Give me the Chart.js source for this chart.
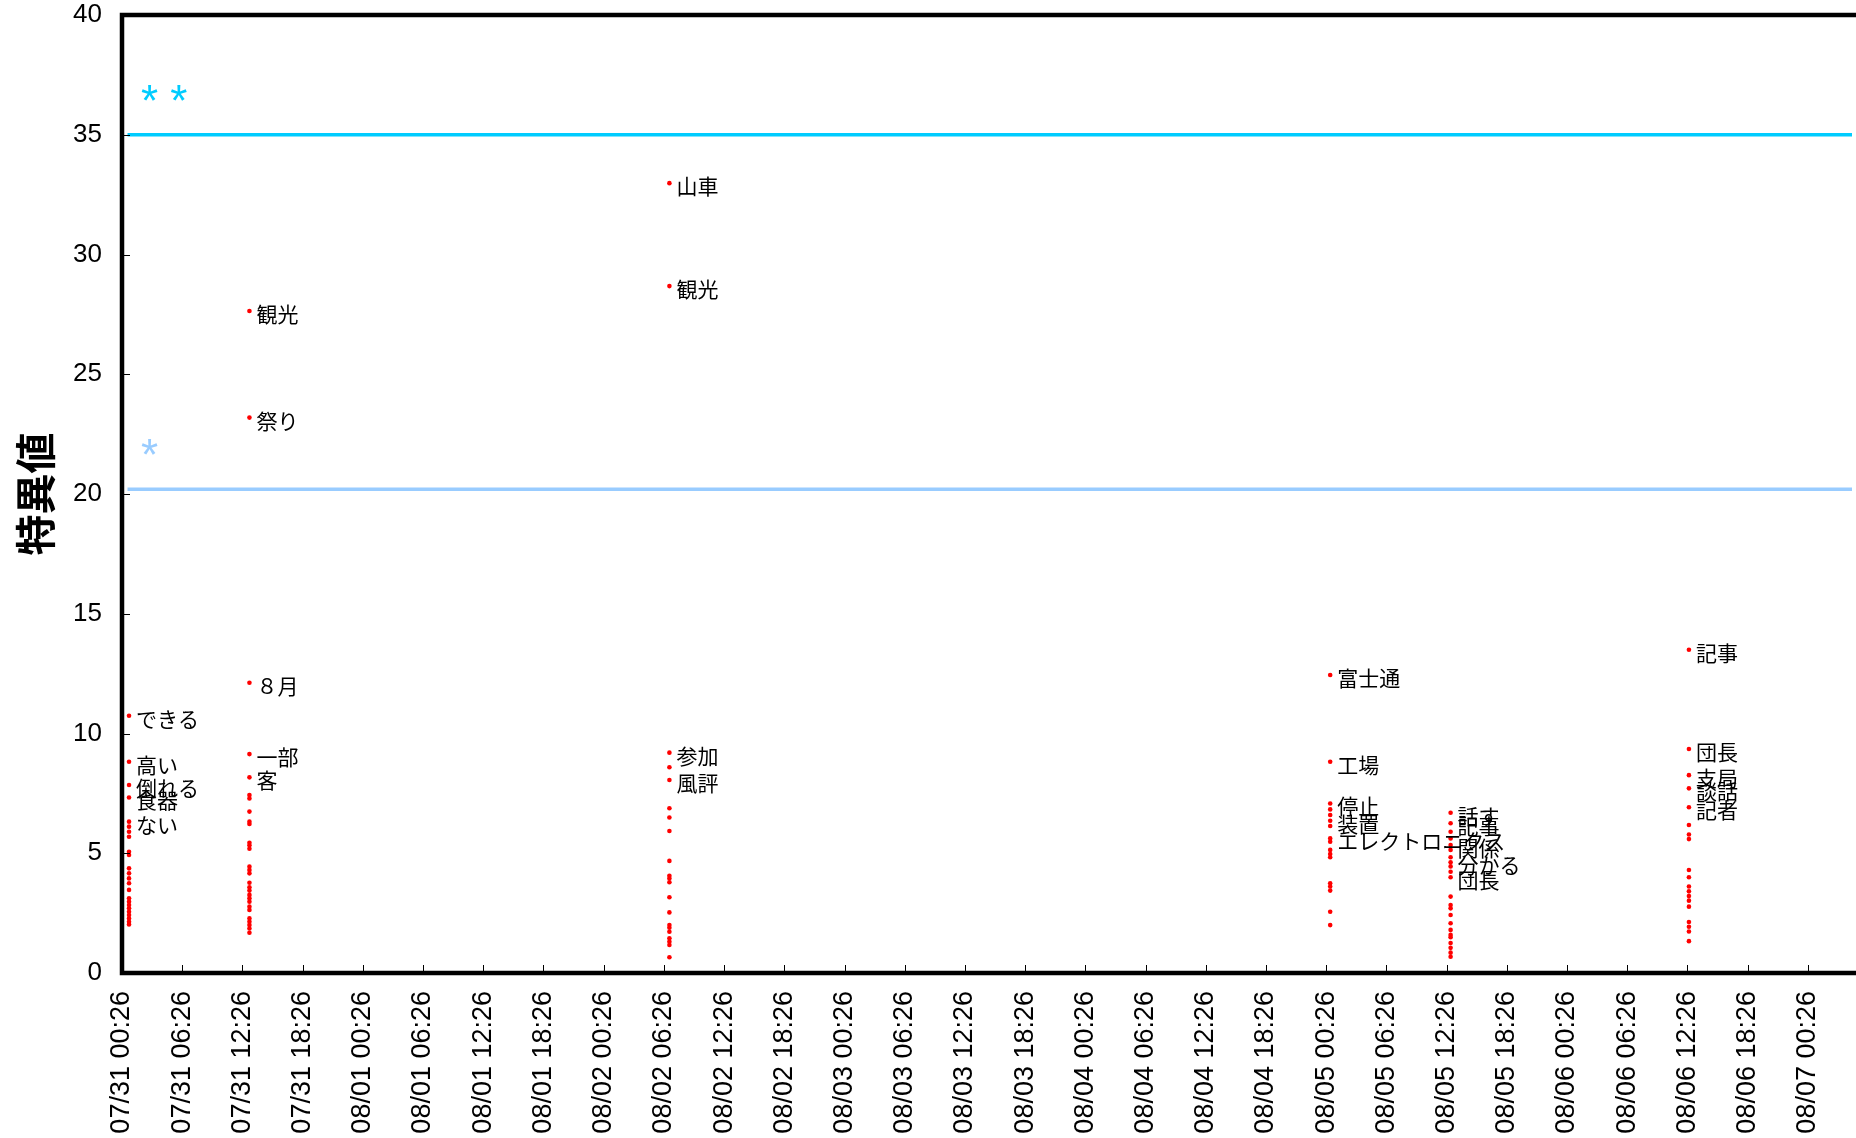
<!DOCTYPE html>
<html lang="ja">
<head>
<meta charset="utf-8">
<title>特異値</title>
<script src="https://cdn.jsdelivr.net/npm/chart.js@4.4.1/dist/chart.umd.min.js"></script>
<style>
    html, body { margin: 0; padding: 0; background: #fff; }
    #wrap { width: 1856px; height: 1138px; }
</style>
</head>
<body>
<div id="wrap"><canvas id="myChart"></canvas></div>
<script>
// x axis is in hours counted from 07/31 00:26, one label every 6 hours
var xTickLabels = [
    '07/31 00:26', '07/31 06:26', '07/31 12:26', '07/31 18:26',
    '08/01 00:26', '08/01 06:26', '08/01 12:26', '08/01 18:26',
    '08/02 00:26', '08/02 06:26', '08/02 12:26', '08/02 18:26',
    '08/03 00:26', '08/03 06:26', '08/03 12:26', '08/03 18:26',
    '08/04 00:26', '08/04 06:26', '08/04 12:26', '08/04 18:26',
    '08/05 00:26', '08/05 06:26', '08/05 12:26', '08/05 18:26',
    '08/06 00:26', '08/06 06:26', '08/06 12:26', '08/06 18:26',
    '08/07 00:26'
];
var xMaxHours = 172.4;

// time of each burst of words (hours from 07/31 00:26)
var burstTimes = [0.7, 12.7, 54.55, 120.4, 132.4, 156.15];

// 特異値 of the words in each burst, the top ones carry a label
var vals1 = [10.74, 8.82, 7.85, 7.33, 6.32, 6.11, 5.90, 5.69, 5.06, 4.93, 4.37, 4.16, 3.95, 3.75, 3.47, 3.12, 2.98, 2.84, 2.70, 2.56, 2.42, 2.28, 2.14, 2.03];
var words1 = ['できる', '高い', '倒れる', '食器', 'ない'];

var vals2 = [27.64, 23.19, 12.12, 9.14, 8.17, 7.43, 7.29, 6.74, 6.32, 6.22, 5.44, 5.33, 5.19, 4.44, 4.30, 4.16, 3.77, 3.58, 3.44, 3.26, 3.12, 2.98, 2.77, 2.63, 2.28, 2.14, 2.00, 1.86, 1.68];
var words2 = ['観光', '祭り', '８月', '一部', '客'];

var vals3 = [32.98, 28.68, 9.20, 8.59, 8.06, 6.88, 6.49, 5.93, 4.68, 4.06, 3.95, 3.79, 3.16, 2.53, 2.00, 1.89, 1.72, 1.45, 1.31, 1.17, 0.66];
var words3 = ['山車', '観光', '参加', '', '風評'];

var vals4 = [12.44, 8.82, 7.08, 6.83, 6.60, 6.36, 6.14, 5.62, 5.48, 5.14, 4.97, 4.83, 3.75, 3.61, 3.44, 2.56, 2.00];
var words4 = ['富士通', '工場', '停止', '', '', '装置', '', 'エレクトロニクス'];

var vals5 = [6.69, 6.25, 5.90, 5.62, 5.34, 5.14, 4.83, 4.62, 4.45, 4.23, 4.00, 3.19, 2.84, 2.70, 2.42, 2.08, 1.80, 1.59, 1.49, 1.25, 1.05, 0.85, 0.68];
var words5 = ['話す', '記事', '', '', '関係', '', '', '分かる', '', '', '団長'];

var vals6 = [13.50, 9.35, 8.26, 7.71, 6.92, 6.18, 5.78, 5.59, 4.30, 4.00, 3.61, 3.41, 3.21, 3.02, 2.77, 2.13, 1.93, 1.73, 1.33];
var words6 = ['記事', '団長', '支局', '談話', '記者'];

// significance lines
var thresholdValues = [35, 20.2];
var thresholdMarks = ['* *', '*'];
var thresholdColors = ['#00CCFF', '#99CCFF'];

var allVals = [vals1, vals2, vals3, vals4, vals5, vals6];
var allWords = [words1, words2, words3, words4, words5, words6];

var datasets = [];

// horizontal lines first so the dots sit on top
thresholdValues.forEach(function(v, i) {
    datasets.push({
        type: 'line',
        data: [{x: 0.55, y: v}, {x: xMaxHours, y: v}],
        borderColor: thresholdColors[i],
        borderWidth: 3.5,
        pointRadius: 0,
        fill: false,
        mark: thresholdMarks[i]
    });
});

allVals.forEach(function(vals, i) {
    datasets.push({
        type: 'scatter',
        data: vals.map(function(v) { return {x: burstTimes[i], y: v}; }),
        backgroundColor: '#FF0000',
        borderWidth: 0,
        pointRadius: 2.3,
        words: allWords[i]
    });
});

// word labels next to the dots, and the asterisks over the lines
var wordPlugin = {
    id: 'words',
    afterDatasetsDraw: function(chart) {
        var c = chart.ctx;
        var a = chart.chartArea;
        c.save();
        c.font = '21px "Noto Sans CJK JP"';
        c.fillStyle = '#000';
        c.textAlign = 'left';
        c.textBaseline = 'middle';
        chart.data.datasets.forEach(function(ds, i) {
            if (!ds.words) return;
            chart.getDatasetMeta(i).data.forEach(function(pt, j) {
                if (ds.words[j]) c.fillText(ds.words[j], pt.x + 7, pt.y + 3);
            });
        });
        c.font = '44px "Liberation Sans"';
        c.textBaseline = 'alphabetic';
        chart.data.datasets.forEach(function(ds, i) {
            if (!ds.mark) return;
            var py = chart.scales.y.getPixelForValue(ds.data[0].y);
            c.fillStyle = ds.borderColor;
            c.fillText(ds.mark, a.left + 19, py - 19);
        });
        c.restore();
    }
};

// thick frame on left, top and bottom, small ticks pointing inward
var framePlugin = {
    id: 'frame',
    afterDraw: function(chart) {
        var c = chart.ctx;
        var a = chart.chartArea;
        var xs = chart.scales.x;
        var ys = chart.scales.y;
        c.save();
        c.strokeStyle = '#000';
        c.lineWidth = 1;
        ys.ticks.forEach(function(t) {
            var py = Math.round(ys.getPixelForValue(t.value)) + 0.5;
            c.beginPath();
            c.moveTo(a.left, py);
            c.lineTo(a.left + 8, py);
            c.stroke();
        });
        xs.ticks.forEach(function(t) {
            var px = Math.round(xs.getPixelForValue(t.value)) + 0.5;
            c.beginPath();
            c.moveTo(px, a.bottom);
            c.lineTo(px, a.bottom - 8);
            c.stroke();
        });
        c.lineWidth = 4.5;
        c.beginPath();
        c.moveTo(a.right + 5, a.top);
        c.lineTo(a.left, a.top);
        c.lineTo(a.left, a.bottom);
        c.lineTo(a.right + 5, a.bottom);
        c.stroke();
        c.restore();
    }
};

var ctx = document.getElementById('myChart').getContext('2d');
var myChart = new Chart(ctx, {
    type: 'scatter',
    data: { datasets: datasets },
    options: {
        responsive: true,
        maintainAspectRatio: false,
        animation: false,
        layout: { padding: { top: 15, right: 0, left: 0, bottom: 0 } },
        plugins: {
            legend: { display: false },
            tooltip: { enabled: false }
        },
        scales: {
            x: {
                type: 'linear',
                min: 0,
                max: xMaxHours,
                grid: { display: false, drawTicks: false },
                border: { display: false },
                afterBuildTicks: function(scale) {
                    scale.ticks = xTickLabels.map(function(l, i) { return {value: i * 6}; });
                },
                afterFit: function(scale) {
                    scale.height = 165;
                    scale.paddingLeft = 0;
                    scale.paddingRight = 0;
                },
                ticks: {
                    autoSkip: false,
                    minRotation: 90,
                    maxRotation: 90,
                    padding: 18,
                    color: '#000',
                    font: { family: '"Liberation Sans"', size: 27 },
                    callback: function(value) { return xTickLabels[Math.round(value / 6)]; }
                }
            },
            y: {
                min: 0,
                max: 40,
                grid: { display: false, drawTicks: false },
                border: { display: false },
                afterFit: function(scale) {
                    scale.width = 122;
                    scale.paddingTop = 0;
                    scale.paddingBottom = 0;
                },
                ticks: {
                    stepSize: 5,
                    padding: 20,
                    color: '#000',
                    font: { family: '"Liberation Sans"', size: 26 }
                },
                title: {
                    display: true,
                    text: '特異値',
                    color: '#000',
                    padding: { top: 11, bottom: 0 },
                    font: { family: '"Noto Sans CJK JP"', size: 41, weight: 'bold' }
                }
            }
        }
    },
    plugins: [wordPlugin, framePlugin]
});
</script>
</body>
</html>
